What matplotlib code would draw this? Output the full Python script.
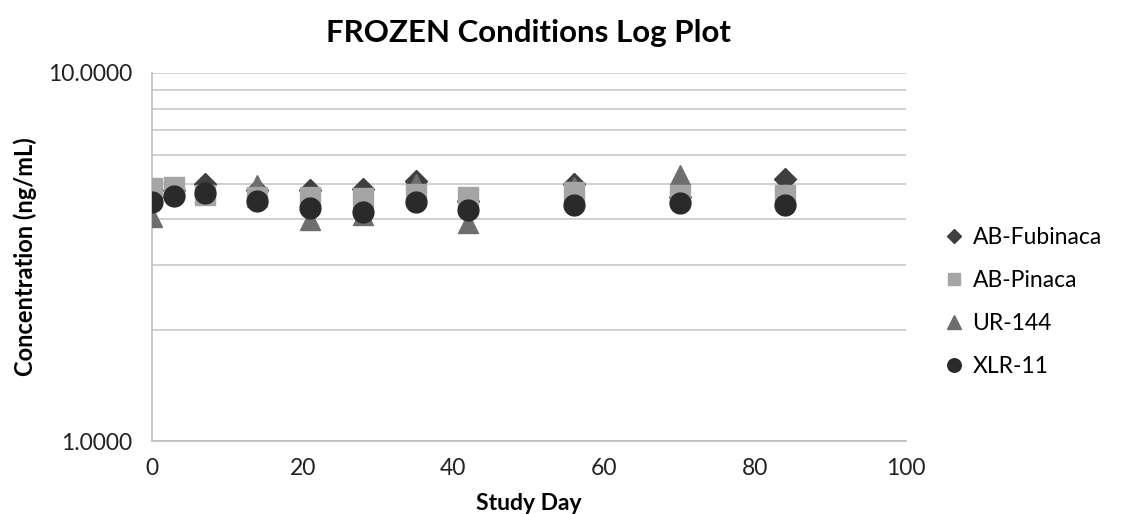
import numpy as np
import matplotlib.pyplot as plt
from matplotlib.ticker import FixedLocator, NullFormatter

plt.rcParams['font.family'] = ['Lato', 'DejaVu Sans']

# ======================
# Data
# ======================
days = [0, 3, 7, 14, 21, 28, 35, 42, 56, 70, 84]
ab_fubinaca = [4.6, 4.8, 5.0, 4.8, 4.8, 4.83, 5.09, 4.5, 5.0, 4.6, 5.16]
ab_pinaca = [4.87, 4.9, 4.65, 4.6, 4.6, 4.58, 4.7, 4.6, 4.76, 4.66, 4.66]
ur_144 = [4.07, 4.9, 4.75, 4.95, 3.98, 4.1, 5.0, 3.9, 4.9, 5.28, 4.7]
xlr_11 = [4.47, 4.63, 4.72, 4.5, 4.3, 4.2, 4.47, 4.24, 4.38, 4.43, 4.38]

# ======================
# Plot
# ======================
fig = plt.figure(figsize=(11.25, 5.14), dpi=100)
ax = fig.add_axes([0.135, 0.142, 0.670, 0.716])

ax.plot(days, ab_fubinaca, linestyle='none', marker='D', markersize=11,
        color='#3f3f3f', label='AB-Fubinaca', zorder=3)
ax.plot(days, ab_pinaca, linestyle='none', marker='s', markersize=14,
        color='#a5a5a5', label='AB-Pinaca', zorder=4)
ax.plot(days, ur_144, linestyle='none', marker='^', markersize=15,
        color='#6e6e6e', label='UR-144', zorder=3)
ax.plot(days, xlr_11, linestyle='none', marker='o', markersize=15,
        color='#2a2a2a', label='XLR-11', zorder=5)

ax.set_yscale('log')
ax.set_ylim(1, 10)
ax.set_xlim(0, 100)
ax.set_xticks([0, 20, 40, 60, 80, 100])
ax.yaxis.set_major_locator(FixedLocator([1, 10]))
ax.set_yticklabels(['1.0000', '10.0000'])
ax.yaxis.set_minor_locator(FixedLocator([2, 3, 4, 5, 6, 7, 8, 9]))
ax.yaxis.set_minor_formatter(NullFormatter())

ax.grid(True, which='both', axis='y', color='#c8c8c8', linewidth=1.2)
ax.set_axisbelow(True)
for s in ['top', 'right']:
    ax.spines[s].set_visible(False)
for s in ['left', 'bottom']:
    ax.spines[s].set_color('#bdbdbd')
    ax.spines[s].set_linewidth(1.2)
ax.tick_params(axis='both', which='both', length=0, labelsize=16.5,
               colors='#222222')
ax.tick_params(axis='x', pad=12)
ax.tick_params(axis='y', pad=14)

ax.set_title('FROZEN Conditions Log Plot', fontsize=22.5, fontweight='bold', pad=22)
ax.set_xlabel('Study Day', fontsize=16.5, fontweight='bold', labelpad=10)
ax.set_ylabel('Concentration (ng/mL)', fontsize=17, fontweight='bold', labelpad=8)

leg = ax.legend(loc='center left', bbox_to_anchor=(1.025, 0.378), frameon=False,
                fontsize=16.5, markerscale=0.65, handlelength=0.8, handletextpad=0.4,
                labelspacing=0.95)

plt.savefig('out.png', dpi=100)
